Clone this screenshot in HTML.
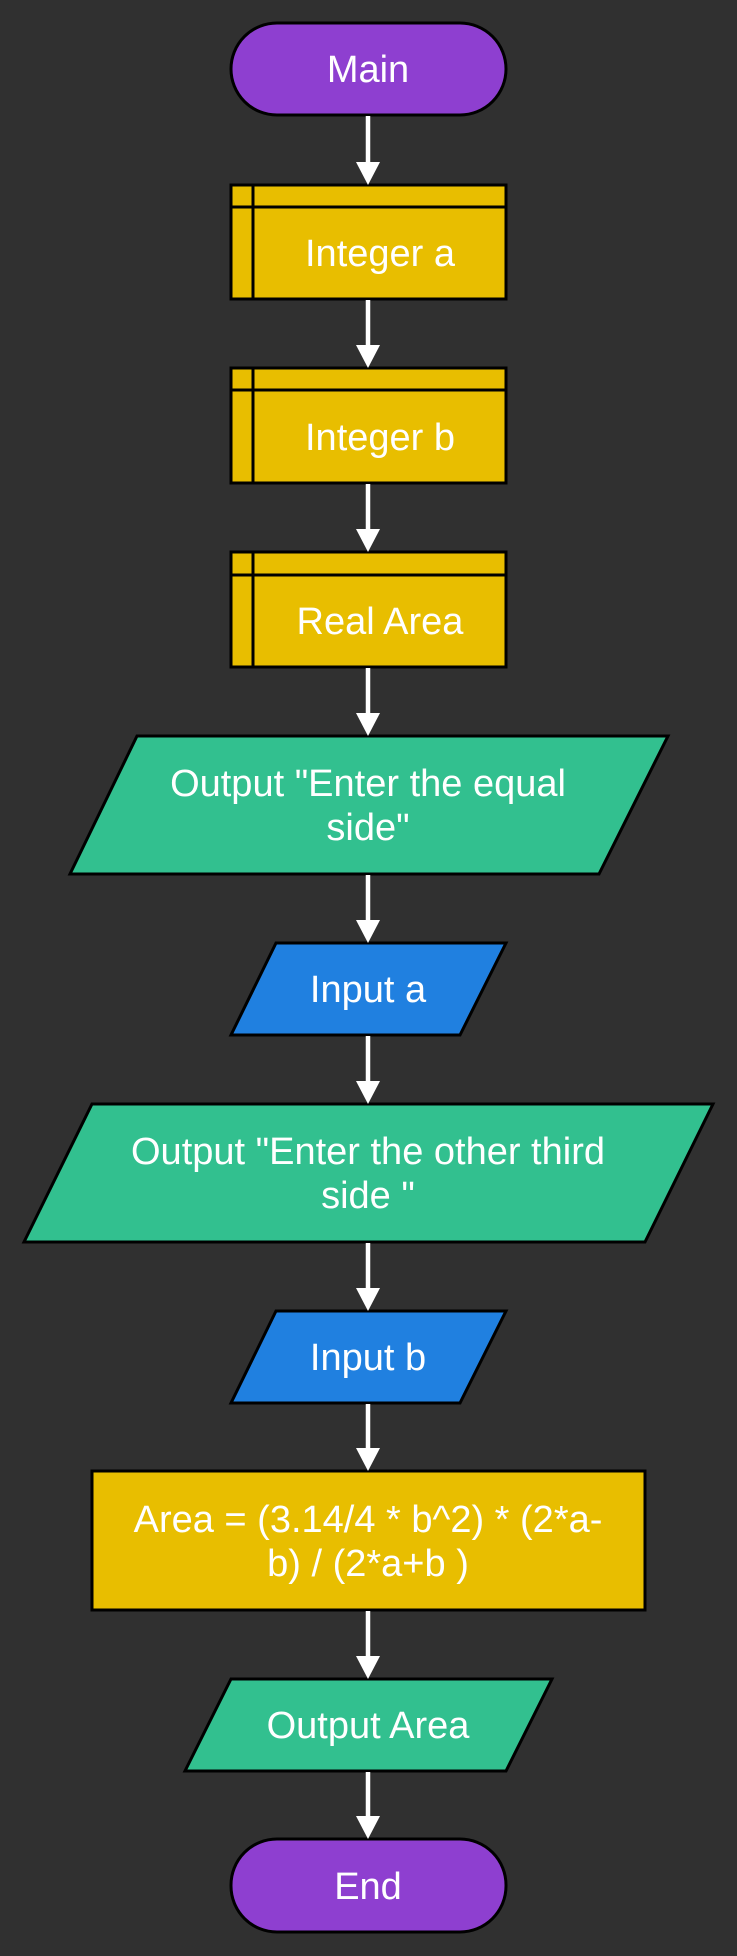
<!DOCTYPE html>
<html><head><meta charset="utf-8"><style>
html,body{margin:0;padding:0;background:#303030;}
svg{display:block;}
text{font-family:"Liberation Sans",Arial,sans-serif;font-size:38px;fill:#fff;text-anchor:middle;}
</style></head><body>
<svg width="737" height="1956" viewBox="0 0 737 1956" xmlns="http://www.w3.org/2000/svg">
<rect width="737" height="1956" fill="#303030"/>
<g stroke="#000" stroke-width="3">
<rect x="231" y="23" width="275" height="92" rx="46" fill="#8e3fd0"/>
<rect x="231" y="185" width="275" height="114" fill="#e8be00"/>
<line x1="231" y1="207" x2="506" y2="207"/><line x1="253" y1="185" x2="253" y2="299"/>
<rect x="231" y="368" width="275" height="115" fill="#e8be00"/>
<line x1="231" y1="390" x2="506" y2="390"/><line x1="253" y1="368" x2="253" y2="483"/>
<rect x="231" y="552" width="275" height="115" fill="#e8be00"/>
<line x1="231" y1="575" x2="506" y2="575"/><line x1="253" y1="552" x2="253" y2="667"/>
<polygon points="137,736 668,736 599,874 70,874" fill="#32c08f"/>
<polygon points="276,943 506,943 460,1035 231,1035" fill="#2080e0"/>
<polygon points="92,1104 713,1104 645,1242 24,1242" fill="#32c08f"/>
<polygon points="276,1311 506,1311 460,1403 231,1403" fill="#2080e0"/>
<rect x="92" y="1471" width="553" height="139" fill="#e8be00"/>
<polygon points="231,1679 552,1679 506,1771 185,1771" fill="#32c08f"/>
<rect x="231" y="1839" width="275" height="93" rx="46" fill="#8e3fd0"/>
</g>
<g stroke="#fff" stroke-width="4.5">
<line x1="368" y1="116" x2="368" y2="165"/>
<line x1="368" y1="300" x2="368" y2="348"/>
<line x1="368" y1="484" x2="368" y2="532"/>
<line x1="368" y1="668" x2="368" y2="716"/>
<line x1="368" y1="875" x2="368" y2="923"/>
<line x1="368" y1="1036" x2="368" y2="1084"/>
<line x1="368" y1="1243" x2="368" y2="1291"/>
<line x1="368" y1="1404" x2="368" y2="1451"/>
<line x1="368" y1="1611" x2="368" y2="1659"/>
<line x1="368" y1="1772" x2="368" y2="1819"/>
</g>
<g fill="#fff">
<polygon points="356,162 380,162 368,185"/>
<polygon points="356,345 380,345 368,368"/>
<polygon points="356,529 380,529 368,552"/>
<polygon points="356,713 380,713 368,736"/>
<polygon points="356,920 380,920 368,943"/>
<polygon points="356,1081 380,1081 368,1104"/>
<polygon points="356,1288 380,1288 368,1311"/>
<polygon points="356,1448 380,1448 368,1471"/>
<polygon points="356,1656 380,1656 368,1679"/>
<polygon points="356,1816 380,1816 368,1839"/>
</g>
<text x="368" y="82">Main</text>
<text x="380" y="266">Integer a</text>
<text x="380" y="450">Integer b</text>
<text x="380" y="634">Real Area</text>
<text x="368" y="796">Output "Enter the equal</text>
<text x="368" y="840">side"</text>
<text x="368" y="1002">Input a</text>
<text x="368" y="1164">Output "Enter the other third</text>
<text x="368" y="1208">side "</text>
<text x="368" y="1370">Input b</text>
<text x="368" y="1532">Area = (3.14/4 * b^2) * (2*a-</text>
<text x="368" y="1576">b) / (2*a+b )</text>
<text x="368" y="1738">Output Area</text>
<text x="368" y="1899">End</text>
</svg>
</body></html>
